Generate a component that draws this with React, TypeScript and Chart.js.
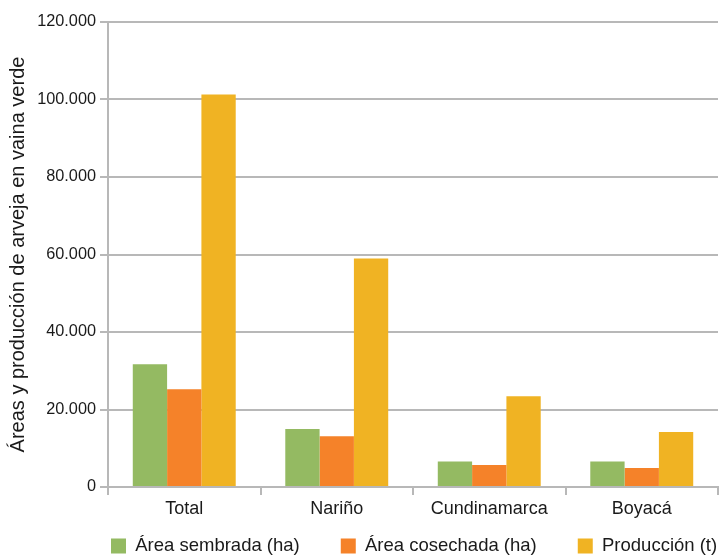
import React, { useEffect, useRef } from "react";
import { Chart, registerables } from "chart.js";

Chart.register(...registerables);

const categories = ["Total", "Nariño", "Cundinamarca", "Boyacá"];
const areaSembrada = [31700, 15000, 6600, 6600];
const areaCosechada = [25200, 13100, 5700, 4900];
const produccion = [101300, 59000, 23400, 14200];
const seriesLabels = ["Área sembrada (ha)", "Área cosechada (ha)", "Producción (t)"];
const yTicks = [0, 20000, 40000, 60000, 80000, 100000, 120000];

const fmt = (v: number) =>
  v === 0 ? "0" : String(v).replace(/\B(?=(\d{3})+(?!\d))/g, ".");

export default function App() {
  const ref = useRef<HTMLCanvasElement | null>(null);

  useEffect(() => {
    if (!ref.current) return;
    const family = "'Liberation Sans', Arial, sans-serif";
    const grid = "#b8b8b8";
    const text = "#1a1a1a";
    const legendPad = 41;
    const legendShift = {
      id: "legendShift",
      afterLayout(chart: any) {
        const l = chart.legend;
        if (!l) return;
        l.left = 111 - legendPad;
        l.right = 900;
        l.top = 546 - 9.25 - legendPad;
        l.bottom = 560;
      },
    };
    const chart = new Chart(ref.current, {
      type: "bar",
      data: {
        labels: categories,
        datasets: [
          {
            label: seriesLabels[0],
            data: areaSembrada,
            backgroundColor: "#94ba62",
            borderWidth: 0,
          },
          {
            label: seriesLabels[1],
            data: areaCosechada,
            backgroundColor: "#f58229",
            borderWidth: 0,
          },
          {
            label: seriesLabels[2],
            data: produccion,
            backgroundColor: "#f0b323",
            borderWidth: 0,
          },
        ],
      },
      options: {
        animation: false,
        responsive: false,
        maintainAspectRatio: false,
        categoryPercentage: 0.675,
        barPercentage: 1,
        layout: { padding: { top: 22, right: 1, bottom: 0, left: 0 } },
        plugins: {
          tooltip: { enabled: false },
          legend: {
            position: "bottom",
            align: "start",
            maxHeight: 36,
            labels: {
              font: { family, size: 18.5 },
              color: text,
              boxWidth: 15,
              boxHeight: 15,
              padding: legendPad,
            },
          },
        },
        scales: {
          x: {
            afterFit: (s: any) => {
              s.height = 32;
            },
            grid: {
              display: true,
              drawOnChartArea: false,
              tickLength: 8,
              color: grid,
              lineWidth: 2,
            },
            border: { color: grid, width: 2 },
            ticks: { font: { family, size: 18 }, color: text, padding: 3 },
          },
          y: {
            min: 0,
            max: 120000,
            afterFit: (s: any) => {
              s.width = 108;
            },
            afterBuildTicks: (s: any) => {
              s.ticks = yTicks.map((v) => ({ value: v }));
            },
            grid: {
              color: grid,
              lineWidth: 2,
              tickLength: 8,
            },
            border: { color: grid, width: 2 },
            ticks: {
              font: { family, size: 16.3 },
              color: text,
              padding: 4,
              callback: (v: any) => fmt(Number(v)),
            },
            title: {
              display: true,
              text: "Áreas y producción de arveja en vaina verde",
              font: { family, size: 20 },
              color: text,
              padding: { top: 6, bottom: 4 },
            },
          },
        },
      },
      plugins: [legendShift],
    });
    return () => chart.destroy();
  }, []);

  return (
    <div style={{ position: "fixed", left: 0, top: 0, width: 719, height: 555 }}>
      <canvas ref={ref} width={719} height={555} style={{ width: 719, height: 555 }} />
    </div>
  );
}
